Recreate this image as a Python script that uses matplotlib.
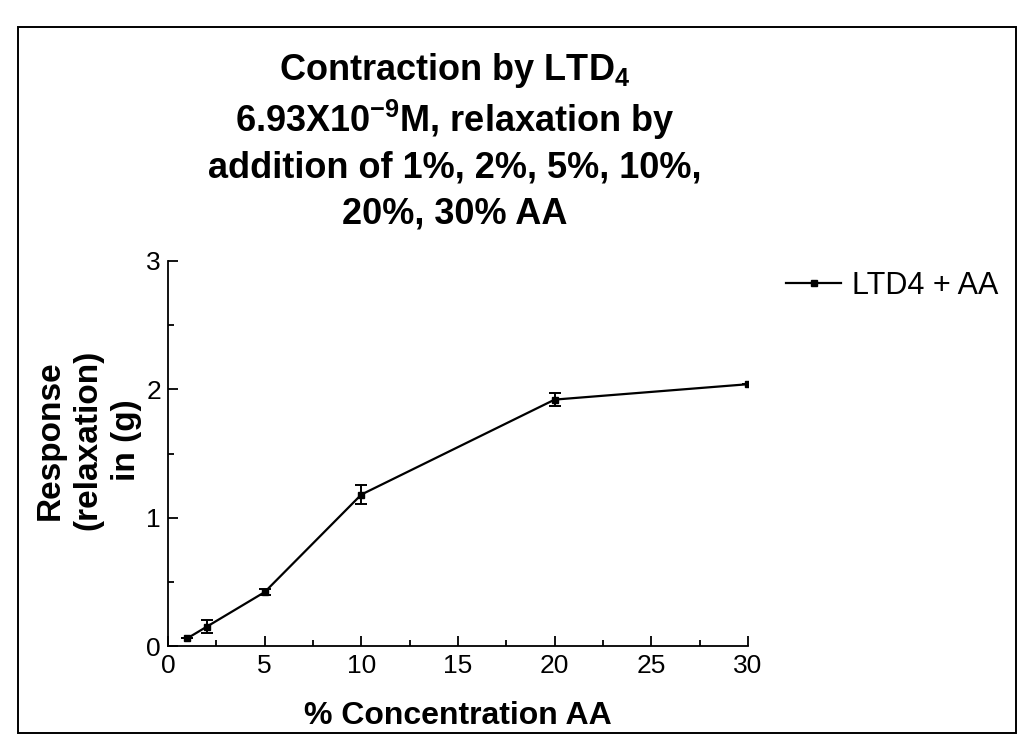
import matplotlib
matplotlib.use("Agg")
import matplotlib.pyplot as plt
from matplotlib.patches import Rectangle
from matplotlib.ticker import MultipleLocator

plt.rcParams['font.family'] = ['Liberation Sans', 'DejaVu Sans']
plt.rcParams['mathtext.fontset'] = 'custom'
plt.rcParams['mathtext.rm'] = 'Liberation Sans'
plt.rcParams['mathtext.bf'] = 'Liberation Sans:bold'

# ---- data ----
concentration = [1, 2, 5, 10, 20, 30]          # % AA
response = [0.06, 0.15, 0.42, 1.18, 1.92, 2.04]  # relaxation (g)
sem = [0.0, 0.05, 0.025, 0.075, 0.05, 0.0]
series_label = "LTD4 + AA"
title_lines = [
    r"Contraction by LTD$_{\mathbf{4}}$",
    r"6.93X10$^{\mathbf{-9}}$M, relaxation by",
    "addition of 1%, 2%, 5%, 10%,",
    "20%, 30% AA",
]
x_label = "% Concentration AA"
y_label = "Response\n(relaxation)\nin (g)"
x_ticks = [0, 5, 10, 15, 20, 25, 30]
y_ticks = [0, 1, 2, 3]

W, H = 1020, 745
fig = plt.figure(figsize=(W / 100, H / 100), dpi=100)
fig.patch.set_facecolor('white')

# page frame
fig.add_artist(Rectangle((18 / W, 1 - 733 / H), (1016 - 18) / W, (733 - 27) / H,
                         transform=fig.transFigure, fill=False,
                         edgecolor='black', linewidth=1.4))

ax = fig.add_axes([168 / W, 1 - 646 / H, 580 / W, 385 / H])

ax.plot(concentration, response, '-s', color='black', linewidth=1.6,
        markersize=5, label=series_label, zorder=3)
ax.errorbar(concentration, response, yerr=sem, fmt='none', ecolor='black',
            elinewidth=1.4, capsize=4, capthick=1.4, zorder=3)

ax.set_xlim(0, 30)
ax.set_ylim(0, 3)
ax.set_xticks(x_ticks)
ax.set_yticks(y_ticks)
ax.xaxis.set_minor_locator(MultipleLocator(2.5))
ax.yaxis.set_minor_locator(MultipleLocator(0.5))

for side in ['top', 'right']:
    ax.spines[side].set_visible(False)
for side in ['left', 'bottom']:
    ax.spines[side].set_linewidth(1.3)

ax.tick_params(axis='both', which='major', direction='in', length=7,
               width=1.3, labelsize=19, pad=5)
ax.tick_params(axis='both', which='minor', direction='in', length=4.3,
               width=1.3)
ax.tick_params(axis='x', which='major', pad=6)

ax.set_xlabel(x_label, fontsize=23, fontweight='bold', va='center')
ax.xaxis.set_label_coords(0.5, (646 - 716) / 385)
ax.set_ylabel(y_label, fontsize=24, fontweight='bold', va='center',
              linespacing=1.3)
ax.yaxis.set_label_coords((88 - 168) / 580, (646 - 440) / 385)

title_y = [70, 120, 168, 214]
for line, ty in zip(title_lines, title_y):
    fig.text(455 / W, 1 - ty / H, line, fontsize=26, fontweight='bold',
             ha='center', va='center')

ax.legend(loc='center left', bbox_to_anchor=(786 / W, 1 - 286 / H),
          bbox_transform=fig.transFigure, frameon=False, fontsize=22,
          handlelength=1.8, handletextpad=0.35, borderpad=0,
          borderaxespad=0, numpoints=1)

fig.savefig("out.png", dpi=100, facecolor='white')
